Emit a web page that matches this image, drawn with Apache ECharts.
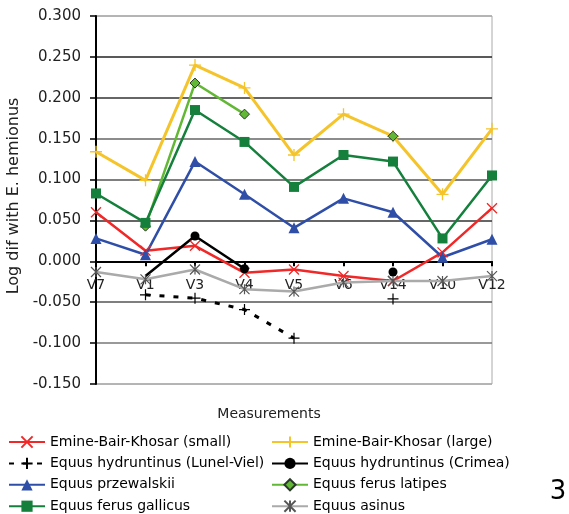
<!DOCTYPE html>
<html>
<head>
<meta charset="utf-8">
<script src="https://cdn.jsdelivr.net/npm/echarts@6/dist/echarts.min.js"></script>
<style>
html,body{margin:0;padding:0;background:#fff;}
#chart{width:569px;height:514px;}
</style>
</head>
<body>
<div id="chart"></div>
<script>
var categories = ['V7','V1','V3','V4','V5','V6','V14','V10','V12'];
var yTicks = [-0.15, -0.1, -0.05, 0, 0.05, 0.1, 0.15, 0.2, 0.25, 0.3];

var seriesNames = [
  'Emine-Bair-Khosar (small)',
  'Emine-Bair-Khosar (large)',
  'Equus hydruntinus (Lunel-Viel)',
  'Equus hydruntinus (Crimea)',
  'Equus przewalskii',
  'Equus ferus latipes',
  'Equus ferus gallicus',
  'Equus asinus'
];

var ebkSmall   = [0.060, 0.013, 0.019, -0.014, -0.010, -0.018, -0.024, 0.011, 0.065];
var ebkLarge   = [0.134, 0.099, 0.240, 0.212, 0.130, 0.180, 0.153, 0.082, 0.162];
var lunelViel  = [null, -0.041, -0.045, -0.059, -0.094, null, -0.046, null, null];
var crimea     = [null, -0.018, 0.031, -0.009, null, null, -0.013, null, null];
var przewalskii= [0.028, 0.008, 0.122, 0.082, 0.041, 0.077, 0.060, 0.005, 0.027];
var latipes    = [null, 0.043, 0.218, 0.180, null, null, 0.153, null, null];
var gallicus   = [0.083, 0.047, 0.185, 0.146, 0.091, 0.130, 0.122, 0.028, 0.105];
var asinus     = [-0.013, -0.022, -0.010, -0.034, -0.037, -0.026, -0.024, -0.024, -0.018];

var FONT = 'DejaVu Sans';
var CROSS = 'path://M0,0L10,10M10,0L0,10';
var PLUS = 'path://M5,0L5,10M0,5L10,5';
var STAR = 'path://M0,0L10,10M10,0L0,10M5,0L5,10';

var GRID = { left: 96, right: 77, top: 16, bottom: 130 };
var CHART_H = 514;
var yMin = yTicks[0], yMax = yTicks[yTicks.length - 1];
var gridH = CHART_H - GRID.top - GRID.bottom;
var zeroOffset = -gridH * (0 - yMin) / (yMax - yMin);

function mk(name, data, color, symbol, size, opts) {
  opts = opts || {};
  return {
    name: name,
    type: 'line',
    data: data,
    connectNulls: false,
    showAllSymbol: true,
    symbol: symbol,
    symbolSize: size,
    lineStyle: { color: color, width: opts.width || 2.5, type: opts.dash || 'solid' },
    itemStyle: {
      color: opts.fill || color,
      borderColor: opts.border || color,
      borderWidth: opts.bw == null ? 1.5 : opts.bw
    },
    emphasis: { disabled: true },
    z: 3
  };
}

var colors = {
  red: '#f02828',
  yellow: '#f5c42a',
  black: '#000000',
  blue: '#2f4ea8',
  lgreen: '#62b834',
  dgreen: '#15803c',
  grey: '#aaaaaa'
};

var crimeaData = crimea.map(function (v, i) {
  return i === 1 ? { value: v, symbol: 'none' } : v;
});

var series = [
  mk(seriesNames[0], ebkSmall, colors.red, CROSS, 10, { bw: 1.3 }),
  mk(seriesNames[1], ebkLarge, colors.yellow, PLUS, 12, { bw: 1.3, width: 3 }),
  mk(seriesNames[2], lunelViel, colors.black, PLUS, 11, { bw: 1.2, width: 3, dash: [5, 9] }),
  mk(seriesNames[3], crimeaData, colors.black, 'circle', 9, { bw: 0, width: 2.5 }),
  mk(seriesNames[4], przewalskii, colors.blue, 'triangle', 11, { bw: 0 }),
  mk(seriesNames[5], latipes, colors.lgreen, 'diamond', 10, { border: '#2a3a2a', bw: 1 }),
  mk(seriesNames[6], gallicus, colors.dgreen, 'rect', 10, { bw: 0, width: 2.5 }),
  mk(seriesNames[7], asinus, colors.grey, STAR, 10, { border: '#555555', bw: 1.2, fill: colors.grey, width: 2.5 })
];

var legendCommon = {
  orient: 'vertical',
  top: 435,
  padding: 0,
  itemGap: 7.4,
  itemWidth: 36,
  itemHeight: 14,
  textStyle: { fontFamily: FONT, fontSize: 14, color: '#000' },
  selectedMode: false
};

var chart = echarts.init(document.getElementById('chart'), null, { renderer: 'canvas' });
chart.setOption({
  animation: false,
  backgroundColor: '#ffffff',
  grid: {
    left: GRID.left, right: GRID.right, top: GRID.top, bottom: GRID.bottom,
    show: true, borderColor: '#aaaaaa', borderWidth: 1, backgroundColor: 'transparent'
  },
  xAxis: {
    type: 'category',
    data: categories,
    boundaryGap: false,
    position: 'bottom',
    offset: zeroOffset,
    z: 2,
    axisLine: { onZero: false, lineStyle: { color: '#000', width: 2 } },
    axisTick: { show: true, length: 5, inside: false, lineStyle: { color: '#000', width: 2 } },
    axisLabel: { margin: 17, fontFamily: FONT, fontSize: 14, color: '#222' },
    splitLine: { show: false }
  },
  yAxis: {
    type: 'value',
    min: yMin,
    max: yMax,
    interval: 0.05,
    axisLine: { show: true, onZero: false, lineStyle: { color: '#000', width: 2 } },
    axisTick: { show: true, length: 6, lineStyle: { color: '#000', width: 1.5 } },
    axisLabel: {
      margin: 15, fontFamily: FONT, fontSize: 15, color: '#222',
      formatter: function (v) { return v.toFixed(3); }
    },
    splitLine: {
      show: true,
      lineStyle: {
        width: 1.5,
        color: ['#aaaaaa', '#777777', '#555555', '#000000', '#333333', '#555555', '#666666', '#333333', '#222222', '#aaaaaa']
      }
    }
  },
  legend: [
    Object.assign({ left: 8, data: [seriesNames[0], seriesNames[2], seriesNames[4], seriesNames[6]] }, legendCommon),
    Object.assign({ left: 271, data: [seriesNames[1], seriesNames[3], seriesNames[5], seriesNames[7]] }, legendCommon)
  ],
  graphic: [
    {
      type: 'text', x: 14, y: 196, rotation: Math.PI / 2,
      style: { text: 'Log dif with E. hemionus', fontFamily: FONT, fontSize: 16, fill: '#222', align: 'center', verticalAlign: 'middle' }
    },
    {
      type: 'text', x: 269, y: 414,
      style: { text: 'Measurements', fontFamily: FONT, fontSize: 14, fill: '#222', align: 'center', verticalAlign: 'middle' }
    },
    {
      type: 'text', x: 558, y: 492,
      style: { text: '3', fontFamily: FONT, fontSize: 26, fill: '#000', align: 'center', verticalAlign: 'middle' }
    }
  ],
  series: series
});
</script>
</body>
</html>
